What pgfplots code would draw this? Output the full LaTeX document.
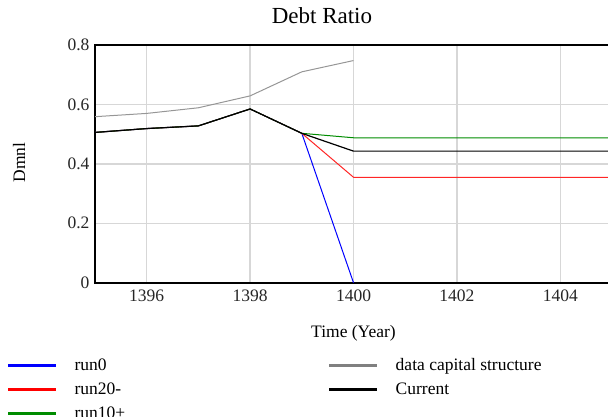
\documentclass[border=0pt]{standalone}
\usepackage{fontspec}
\setmainfont{Liberation Serif}
\usepackage{pgfplots}
\pgfplotsset{compat=1.18}
\definecolor{gridc}{RGB}{215,215,215}
\definecolor{datag}{RGB}{150,150,150}
\definecolor{rgreen}{RGB}{0,140,0}
\begin{document}
\begin{tikzpicture}[x=1pt,y=1pt]
\path[use as bounding box] (0,0) rectangle (608,416);
\clip (0,0) rectangle (608,416);
\begin{axis}[
  at={(95pt,133.3pt)}, anchor=south west,
  scale only axis, width=517pt, height=237.6pt,
  xmin=1395, xmax=1405, ymin=0, ymax=0.8,
  xtick={1396,1398,1400,1402,1404},
  ytick={0,0.2,0.4,0.6,0.8},
  major tick length=0pt,
  grid=major,
  major grid style={gridc, line width=1.3pt},
  axis line style={black, line width=1.8pt},
  /pgf/number format/assume math mode=true,
  /pgf/number format/1000 sep={},
  /pgf/number format/fixed,
  tick label style={font=\rmfamily\fontsize{17.5}{20}\selectfont, text=black!85},
  xticklabel style={yshift=-4pt},
  yticklabel style={xshift=-2pt},
  title={Debt Ratio},
  title style={font=\rmfamily\fontsize{23}{26}\selectfont, at={(axis description cs:0.439,1.097)}, anchor=center},
  xlabel={Time (Year)},
  xlabel style={font=\rmfamily\fontsize{17.5}{20}\selectfont, at={(axis description cs:0.5,-0.212)}, anchor=center},
  ylabel={Dmnl},
  ylabel style={font=\rmfamily\fontsize{17.5}{20}\selectfont, at={(axis description cs:-0.147,0.506)}, anchor=center},
  legend image code/.code={\fill[#1] (0pt,-1pt) rectangle (47pt,1pt);},
  legend columns=2,
  legend cell align=left,
  legend style={at={(axis description cs:-0.174,-0.302)}, anchor=north west,
    draw=none, fill=none, font=\rmfamily\fontsize{17.5}{20}\selectfont, row sep=6.5pt,
    /tikz/every odd column/.append style={column sep=17pt},
    /tikz/every even column/.append style={column sep=202pt}},
]
\addplot[blue, line width=1pt, forget plot] coordinates {(1395,0.506) (1396,0.519) (1397,0.528) (1398,0.585) (1399,0.503) (1400,0.0)};
\addplot[red!85, line width=1pt, forget plot] coordinates {(1395,0.506) (1396,0.519) (1397,0.528) (1398,0.585) (1399,0.503) (1400,0.355) (1405,0.355)};
\addplot[rgreen, line width=1pt, forget plot] coordinates {(1395,0.506) (1396,0.519) (1397,0.528) (1398,0.585) (1399,0.503) (1400,0.488) (1405,0.488)};
\addplot[datag, line width=1pt, forget plot] coordinates {(1395,0.559) (1396,0.570) (1397,0.589) (1398,0.629) (1399,0.710) (1400,0.748)};
\addplot[black, line width=1.2pt, forget plot] coordinates {(1395,0.506) (1396,0.519) (1397,0.528) (1398,0.585) (1399,0.503) (1400,0.443) (1405,0.443)};
\addlegendimage{blue}\addlegendentry{run0}
\addlegendimage{gray}\addlegendentry{data capital structure}
\addlegendimage{red}\addlegendentry{run20-}
\addlegendimage{black}\addlegendentry{Current}
\addlegendimage{rgreen}\addlegendentry{run10+}
\end{axis}
\end{tikzpicture}
\end{document}
